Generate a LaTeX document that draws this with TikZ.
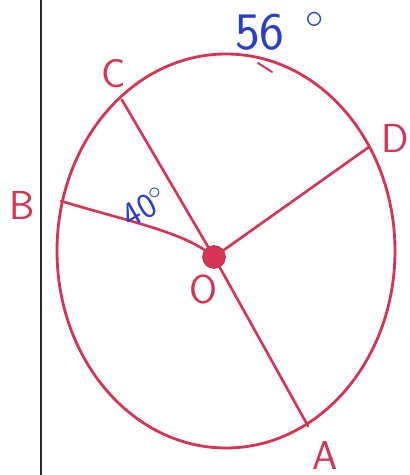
\documentclass[tikz,border=0pt]{standalone}
\usepackage{xcolor}
\usepackage{tikz}
\usetikzlibrary{positioning, calc}
\definecolor{penred}{RGB}{214,52,86}
\definecolor{penblue}{RGB}{40,62,200}
\definecolor{margin}{RGB}{40,40,40}
\tikzset{
  rim/.style={draw=penred, line width=1.6pt},
  radius/.style={draw=penred, line width=1.5pt, line cap=round},
  ptlabel/.style={text=penred, font=\fontsize{23}{25}\selectfont\sffamily, inner sep=0pt},
  anglabel/.style={text=penblue, font=\fontsize{20}{22}\selectfont\sffamily, inner sep=0pt},
  centredot/.style={circle, fill=penred, draw=penred!80!black, minimum size=13pt, inner sep=0pt}
}
\begin{document}
\begin{tikzpicture}[x=0.02cm, y=-0.02cm]
  \useasboundingbox (0,0) rectangle (409,475);
  % ── margin rule of the page ────────────────────────────────
  \draw[margin, line width=1.2pt] (41,0) -- (41,475);
  % ── circle and its points ─────────────────────────────────
  \draw[rim] (226,251) ellipse [x radius=169, y radius=197];
  \coordinate (C) at (122,100);
  \coordinate (D) at (369,147);
  \coordinate (B) at (61,201);
  \coordinate (A) at (308,426);
  \node[centredot] (O) at (214,257) {};
  % ── radii ─────────────────────────────────────────────────
  \draw[radius] (C) -- (O.center) -- (A);
  \draw[radius] (O.center) -- (D);
  \draw[radius] (B) .. controls (130,222) and (185,232) .. (O.center);
  % tick on the arc
  \draw[radius, line width=1.1pt] (258,63) -- (272,72);
  % ── labels ────────────────────────────────────────────────
  \node[ptlabel] (lblC) at (114,74) {C};
  \node[ptlabel] (lblD) at (395,138) {D};
  \node[ptlabel] (lblB) at (22,205) {B};
  \node[ptlabel] (lblA) at (325,455) {A};
  \node[ptlabel] (lblO) at (203,289) {O};
  \node[anglabel, font=\fontsize{30}{32}\selectfont\sffamily] (arcCD) at (280,31) {56\hspace{0.4em}\raisebox{0.1em}{$^{\circ}$}};
  \node[anglabel, rotate=30] (angBOC) at (145,207) {40$^{\circ}$};
\end{tikzpicture}
\end{document}
